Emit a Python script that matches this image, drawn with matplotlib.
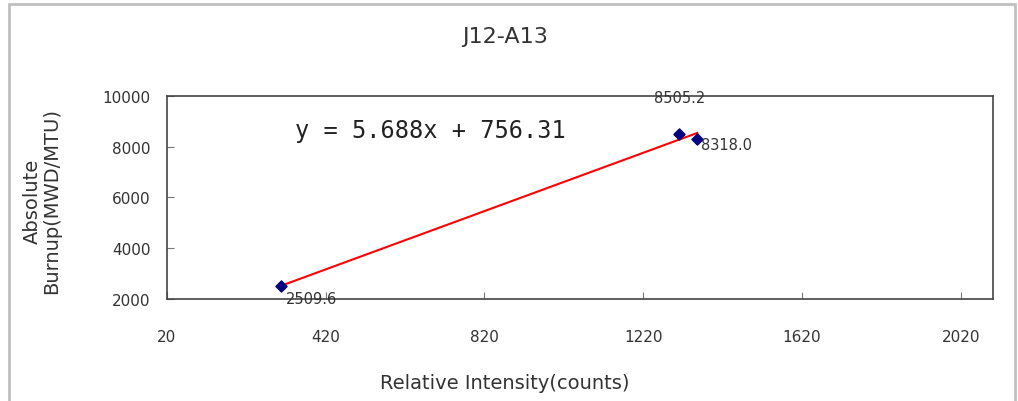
import numpy as np
import matplotlib
matplotlib.use("Agg")
from matplotlib import pyplot as plt
from matplotlib.patches import Rectangle

# data
intensity = [308, 1310, 1356]
burnup = [2509.6, 8505.2, 8318.0]
point_labels = ["2509.6", "8505.2", "8318.0"]
x_ticks = [20, 420, 820, 1220, 1620, 2020]
y_ticks = [2000, 4000, 6000, 8000, 10000]
equation = "y = 5.688x + 756.31"

plt.rcParams['font.family'] = ['DejaVu Sans']
txt = '#333333'

fig = plt.figure(figsize=(10.18, 4.02), dpi=100)
ax = fig.add_axes([0.164, 0.254, 0.811, 0.505])

# outer chart border (bottom edge runs off the picture)
fig.patches.append(Rectangle((0.0088, -0.05), 0.988, 1.0376, transform=fig.transFigure,
                             fill=False, edgecolor='#c0c0c0', linewidth=2))

# trend line
coef = np.polyfit(intensity, burnup, 1)
xs = np.array([min(intensity), max(intensity)])
ax.plot(xs, np.polyval(coef, xs), color='red', linewidth=1.5, zorder=2)

ax.scatter(intensity, burnup, marker='D', s=32, color='#000080', zorder=3)

offsets = [(3, -9), (-18, 26), (3, -4)]
for x, y, lab, off in zip(intensity, burnup, point_labels, offsets):
    ax.annotate(lab, (x, y), xytext=off, textcoords='offset points',
                fontsize=10.5, color=txt, va='center')

ax.text(0.155, 0.83, equation, transform=ax.transAxes, fontsize=17,
        family='DejaVu Sans Mono', color='#222222', va='center')

ax.set_xlim(20, 2100)
ax.set_ylim(2000, 10000)
ax.set_xticks(x_ticks)
ax.set_yticks(y_ticks)
ax.tick_params(direction='in', length=5, labelsize=11, labelcolor=txt, color='#777777')
ax.tick_params(axis='y', pad=12)
ax.tick_params(axis='x', pad=22)
for s in ax.spines.values():
    s.set_color('#444444')
    s.set_linewidth(1.2)

fig.text(0.496, 0.047, "Relative Intensity(counts)", ha='center', va='center',
         fontsize=14, color=txt)
fig.text(0.041, 0.5, "Absolute\nBurnup(MWD/MTU)", ha='center', va='center',
         rotation=90, fontsize=14, color=txt, linespacing=1.05)
fig.text(0.496, 0.908, "J12-A13", ha='center', va='center', fontsize=16, color=txt)

fig.savefig("out.png", dpi=100)
